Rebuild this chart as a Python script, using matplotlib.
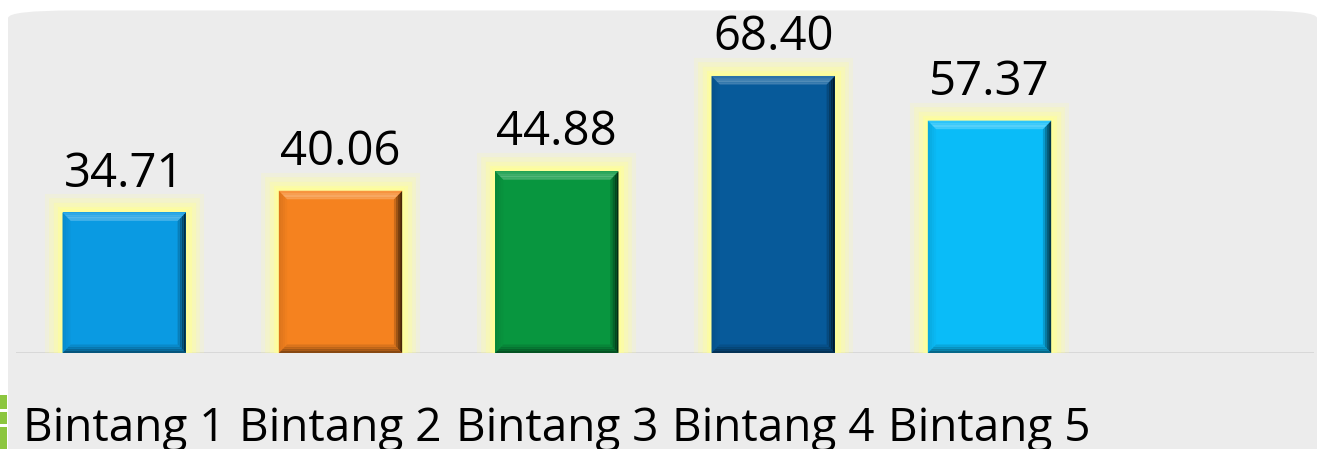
import numpy as np
import matplotlib.pyplot as plt
from matplotlib.patches import FancyBboxPatch, Polygon, Rectangle

# data
categories = ['Bintang 1', 'Bintang 2', 'Bintang 3', 'Bintang 4', 'Bintang 5', '']
values = [34.71, 40.06, 44.88, 68.40, 57.37]
labels = ['34.71', '40.06', '44.88', '68.40', '57.37']
colors = ['#0a9ae2', '#f5821f', '#08963f', '#075a9a', '#0abcf8']

plt.rcParams['font.family'] = ['Open Sans', 'DejaVu Sans']

W, H = 13.19, 4.49
fig = plt.figure(figsize=(W, H), dpi=100)

# rounded grey panel behind everything
panel = FancyBboxPatch((8/1319, -0.2), 1309/1319, 1.2 - 10/449 - 0.001,
                       boxstyle='round,pad=0,rounding_size=0.05',
                       transform=fig.transFigure, facecolor='#ececec',
                       edgecolor='none', zorder=-2, mutation_aspect=H/W)
fig.patches.append(panel)

# little green piece at the left edge
for y0, h in [(395, 14), (412, 12), (427, 22)]:
    fig.patches.append(Rectangle((0, 1 - (y0 + h)/449), 7/1319, h/449,
                                 transform=fig.transFigure, facecolor='#8cc63f',
                                 edgecolor='none', zorder=-1))

ax = fig.add_axes([16/1319, 96/449, (1314-16)/1319, (353-29)/449])
ax.set_facecolor('none')
ax.set_xlim(-0.5, 5.5)
ax.set_ylim(0, 80)

x = np.arange(len(values))
bw = 0.57

# yellow glow
for lw, a in [(26, 0.18), (20, 0.25), (14, 0.35), (8, 0.55), (4, 0.8)]:
    ax.bar(x, values, width=bw, color='none', edgecolor=(1, 1, 0.6, a),
           linewidth=lw, zorder=2)

ax.bar(x, values, width=bw, color=colors, edgecolor='none', zorder=3)

# bevel edges, drawn as a few steps so they look graded
bx = 0.038   # bevel in x units
by = 2.1     # bevel in y units
def shade(c, f):
    c = np.array(plt.matplotlib.colors.to_rgb(c))
    if f > 0:
        return tuple(c + (1 - c) * f)
    return tuple(c * (1 + f))

for xi, v, c in zip(x, values, colors):
    l, r = xi - bw/2, xi + bw/2
    steps = 4
    for k in range(steps):
        t0 = k / steps
        t1 = (k + 1) / steps
        dx0, dx1 = bx * t0, bx * t1
        dy0, dy1 = by * t0, by * t1
        fade = 1 - t0
        top = [(l + dx0, v - dy0), (r - dx0, v - dy0), (r - dx1, v - dy1), (l + dx1, v - dy1)]
        right = [(r - dx0, v - dy0), (r - dx0, dy0), (r - dx1, dy1), (r - dx1, v - dy1)]
        bottom = [(l + dx0, dy0), (r - dx0, dy0), (r - dx1, dy1), (l + dx1, dy1)]
        left = [(l + dx0, v - dy0), (l + dx0, dy0), (l + dx1, dy1), (l + dx1, v - dy1)]
        ax.add_patch(Polygon(left, closed=True, facecolor=shade(c, -0.1 * fade), edgecolor='none', zorder=4))
        ax.add_patch(Polygon(bottom, closed=True, facecolor=shade(c, -0.45 * fade), edgecolor='none', zorder=4))
        ax.add_patch(Polygon(right, closed=True, facecolor=shade(c, -0.7 * fade), edgecolor='none', zorder=4))
        ax.add_patch(Polygon(top, closed=True, facecolor=shade(c, 0.3 * (1 - abs(t0 - 0.5))), edgecolor='none', zorder=4))
    ax.text(xi, v + 6.4, labels[xi], ha='center', va='baseline', fontsize=34, color='black', zorder=5)

ax.axhline(0, color='#d6d6d6', lw=2, zorder=1)

for s in ax.spines.values():
    s.set_visible(False)
ax.set_yticks([])
ax.set_xticks(x[:5])
ax.set_xticklabels(categories[:5], fontsize=33)
ax.tick_params(axis='x', length=0, pad=38)

fig.savefig('out.png', dpi=100)
